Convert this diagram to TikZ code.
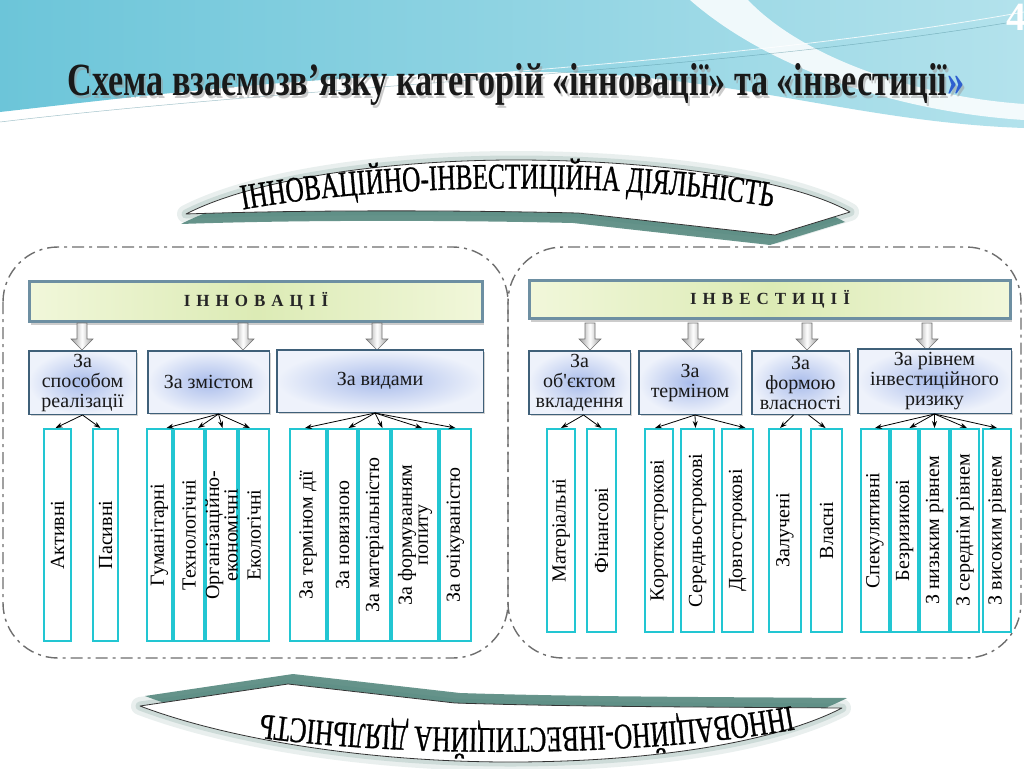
\documentclass[tikz,border=0pt]{standalone}
\usepackage{fontspec}
\usepackage{graphicx}
\setmainfont{Liberation Serif}
\newfontfamily\bannerfont[FakeStretch=0.7,FakeBold=0.8]{Liberation Serif}
\newfontfamily\plainserif{Liberation Serif}
\usetikzlibrary{arrows.meta,shadows,decorations.text,calc}
\definecolor{bgteal}{HTML}{6CC5D9}
\definecolor{bglight}{HTML}{B3E2EC}
\definecolor{shteal}{HTML}{4E8379}
\definecolor{hdrL}{HTML}{F1F7DA}
\definecolor{hdrM}{HTML}{DCEBB5}
\definecolor{hdrB}{HTML}{6D8FA2}
\definecolor{catI}{HTML}{A9BCEB}
\definecolor{catO}{HTML}{EEF2FB}
\definecolor{catB}{HTML}{3F6079}
\definecolor{vbB}{HTML}{22C6D2}
\definecolor{grpC}{HTML}{6E6E6E}
\definecolor{arrG}{HTML}{9A9A9A}
\definecolor{quoteblue}{HTML}{2E5FD0}

\newcommand\tbpath{(186,214) .. controls (260,176) and (400,160) .. (515,160) .. controls (650,160) and (790,178) .. (850,212) -- (775,235) -- (578,213) .. controls (450,210) and (300,210) .. (186,214) -- cycle}
\newcommand\bbpath{(842,708) .. controls (770,745) and (640,762) .. (510,762) .. controls (370,762) and (230,740) .. (140,706) -- (288,684) -- (455,703) .. controls (580,707) and (720,707) .. (842,708) -- cycle}

\newcommand\vrect[6]{%
  \pgfmathsetmacro\vrX{(#2+#3)/2}\pgfmathsetmacro\vrY{(#4+#5)/2}%
  \pgfmathsetmacro\vrW{#3-#2-2.4}\pgfmathsetmacro\vrH{#5-#4-2.4}%
  \node[vb, minimum width=\vrW pt, minimum height=\vrH pt] (#1) at (\vrX,\vrY) {};%
  \node[vt] (#1t) at (#1.center) {#6};}
\newcommand\crect[6]{%
  \pgfmathsetmacro\vrX{(#2+#3)/2}\pgfmathsetmacro\vrY{(#4+#5)/2}%
  \pgfmathsetmacro\vrW{#3-#2-1.5}\pgfmathsetmacro\vrH{#5-#4-1.5}%
  \node[cat, minimum width=\vrW pt, minimum height=\vrH pt] (#1) at (\vrX,\vrY) {#6};}
\newcommand\barrow[2]{%
  \coordinate (#1) at (#2,323);
  \draw[barr] (#1) ++(-5,0) -- ++(10,0) -- ++(0,16) -- ++(6,0) -- ++(-11,11) -- ++(-11,-11) -- ++(6,0) -- cycle;}

\begin{document}
\begin{tikzpicture}[x=1pt,y=-1pt,
 hdr/.style={draw=hdrB, line width=2.5pt, left color=hdrL, right color=hdrL, middle color=hdrM, inner sep=0, font=\fontsize{17}{20}\selectfont\bfseries, text=black!85, drop shadow={shadow xshift=1pt, shadow yshift=-3pt, opacity=.4}},
 cat/.style={draw=catB, line width=1.5pt, inner color=catI, outer color=catO, inner sep=0, align=center, font=\fontsize{20}{20}\selectfont, text=black!90, drop shadow={shadow xshift=2pt, shadow yshift=-2pt, opacity=.35}},
 vb/.style={draw=vbB, line width=2.4pt, fill=white, inner sep=0},
 vt/.style={rotate=90, inner sep=0, align=center, font=\fontsize{20}{16}\selectfont},
 conn/.style={-{Stealth[length=7pt,width=5pt]}, line width=0.8pt, black},
 barr/.style={draw=black!55, line width=0.6pt, left color=arrG, right color=arrG, middle color=white},
 grp/.style={draw=grpC, line width=1.4pt, dash pattern=on 12pt off 5pt on 3pt off 5pt, rounded corners=55pt},
 rib/.style={fill=white, draw=black!80, line width=0.8pt, line join=round},
 bantext/.style={decorate, decoration={text along path, text align=center,
  text={|\bannerfont\fontsize{36}{36}\selectfont|ІННОВАЦІЙНО-ІНВЕСТИЦІЙНА ДІЯЛЬНІСТЬ}}},
]
\useasboundingbox (0,0) rectangle (1024,768);
\fill[white] (0,0) rectangle (1024,768);

% background swoosh
\shade[left color=bgteal, right color=bglight] (0,0) -- (1024,0) -- (1024,128) .. controls (850,122) and (720,70) .. (520,72) .. controls (320,74) and (150,95) .. (0,112) -- cycle;
\fill[white, opacity=.85] (690,0) .. controls (770,70) and (900,112) .. (1024,120) -- (1024,104) .. controls (910,96) and (800,55) .. (748,0) -- cycle;
\draw[white, line width=.8pt, opacity=.8] (0,118) .. controls (300,80) and (700,70) .. (1024,12);
\draw[bgteal!70!black, line width=.5pt, opacity=.5] (0,122) .. controls (320,84) and (720,72) .. (1024,20);

% page number and title
\node[font=\fontsize{40}{40}\selectfont\bfseries, text=white, inner sep=0] (pnum) at (1016,17) {4};
\node[inner sep=0, anchor=base, text=black!40, opacity=.5] (titlesh) at (518,98) {\resizebox{897pt}{32pt}{\bfseries Схема взаємозв’язку категорій «інновації» та «інвестиції»}};
\node[inner sep=0, anchor=base, text=black!90] (title) at (516,95) {\resizebox{897pt}{32pt}{\bfseries Схема взаємозв’язку категорій «інновації» та «інвестиції\textcolor{quoteblue}{»}}};

% top banner
\draw[shteal, opacity=.12, line width=18pt, line join=round] \tbpath;
\draw[shteal, opacity=.18, line width=9pt, line join=round] \tbpath;
\begin{scope}[shift={(-5,10)}]
  \fill[shteal, opacity=.85] \tbpath;
\end{scope}
\draw[rib] \tbpath;
\path[bantext] (215,215) .. controls (380,180) and (640,180) .. (800,212);

% bottom banner
\draw[shteal, opacity=.12, line width=18pt, line join=round] \bbpath;
\draw[shteal, opacity=.18, line width=9pt, line join=round] \bbpath;
\begin{scope}[shift={(5,-10)}]
  \fill[shteal, opacity=.85] \bbpath;
\end{scope}
\draw[rib] \bbpath;
\path[bantext] (808,703) .. controls (650,735) and (400,735) .. (245,712);

% group frames
\draw[grp] (3,247) rectangle (508,658);
\draw[grp] (508,247) rectangle (1021,658);

% headers
\node[hdr, minimum width=453pt, minimum height=40pt] (hI) at (256,301.5) {І\kern6ptН\kern6ptН\kern6ptО\kern6ptВ\kern6ptА\kern6ptЦ\kern6ptІ\kern6ptЇ};
\node[hdr, minimum width=481pt, minimum height=38pt] (hN) at (770,299.5) {І\kern6ptН\kern6ptВ\kern6ptЕ\kern6ptС\kern6ptТ\kern6ptИ\kern6ptЦ\kern6ptІ\kern6ptЇ};

% block arrows
\barrow{ba1}{82}
\barrow{ba2}{243}
\barrow{ba3}{377}
\barrow{ba4}{590}
\barrow{ba5}{693}
\barrow{ba6}{807}
\barrow{ba7}{927}

% category boxes
\crect{cs}{28}{137}{350}{415}{За\\способом\\реалізації}
\crect{cz}{147}{270}{350}{414}{За змістом}
\crect{cv}{276}{484}{349}{413}{\raisebox{-6pt}{За видами}}
\crect{co}{528}{631}{350}{415}{За\\об{\plainserif'}єктом\\вкладення}
\crect{ct}{638}{742}{350}{415}{За\\терміном}
\crect{cf}{751}{850}{350}{415}{За\\формою\\власності}
\crect{cr}{857}{1012}{348}{414}{За рівнем\\інвестиційного\\ризику}

% vertical boxes (left)
\vrect{v1}{43}{72}{428}{642}{Активні}
\vrect{v2}{92}{119}{428}{642}{Пасивні}
\vrect{v3}{146}{173}{428}{642}{Гуманітарні}
\vrect{v4}{173}{205}{428}{642}{Технологічні}
\vrect{v5}{205}{238}{428}{642}{Організаційно-\\економічні}
\vrect{v6}{238}{270}{428}{642}{Екологічні}
\vrect{v7}{289}{327}{428}{642}{За терміном дії}
\vrect{v8}{327}{358}{428}{642}{За новизною}
\vrect{v9}{358}{391}{428}{642}{За матеріальністю}
\vrect{v10}{391}{439}{428}{642}{За формуванням\\попиту}
\vrect{v11}{439}{472}{428}{642}{За очікуваністю}
% vertical boxes (right)
\vrect{w1}{546}{576}{428}{633}{Матеріальні}
\vrect{w2}{586}{617}{428}{633}{Фінансові}
\vrect{w3}{644}{674}{428}{633}{Короткострокові}
\vrect{w4}{680}{715}{428}{633}{Середньострокові}
\vrect{w5}{721}{754}{428}{633}{Довгострокові}
\vrect{w6}{768}{802}{428}{633}{Залучені}
\vrect{w7}{810}{843}{428}{633}{Власні}
\vrect{w8}{860}{890}{428}{633}{Спекулятивні}
\vrect{w9}{890}{919}{428}{633}{Безризикові}
\vrect{w10}{919}{950}{428}{633}{З низьким рівнем}
\vrect{w11}{950}{980}{428}{633}{З середнім рівнем}
\vrect{w12}{982}{1012}{428}{633}{З високим рівнем}

% connectors
\draw[conn] (cs.south) -- ([xshift=-2pt]v1.north);
\draw[conn] (cs.south) -- ([xshift=-5pt]v2.north);
\coordinate (czs) at ([xshift=10pt]cz.south);
\draw[conn] (czs) -- ([xshift=7pt]v3.north);
\draw[conn] (czs) -- ([xshift=9pt]v4.north);
\draw[conn] (czs) -- ([xshift=1pt]v5.north);
\draw[conn] (czs) -- ([xshift=-4pt]v6.north);
\coordinate (cvs) at ([xshift=-5pt]cv.south);
\draw[conn] (cvs) -- ([xshift=-3pt]v7.north);
\draw[conn] (cvs) -- ([xshift=6pt]v8.north);
\draw[conn] (cvs) -- ([xshift=8pt]v9.north);
\draw[conn] (cvs) -- ([xshift=7pt]v10.north);
\draw[conn] (cvs) -- (v11.north);
\coordinate (cos) at ([xshift=4pt]co.south);
\draw[conn] (cos) -- (w1.north);
\draw[conn] (cos) -- (w2.north);
\coordinate (cts) at ([xshift=5pt]ct.south);
\draw[conn] (cts) -- ([xshift=-4pt]w3.north);
\draw[conn] (cts) -- ([xshift=-2pt]w4.north);
\draw[conn] (cts) -- ([xshift=8pt]w5.north);
\draw[conn] ([xshift=-7pt]cf.south) -- ([xshift=-5pt]w6.north);
\draw[conn] ([xshift=8pt]cf.south) -- ([xshift=-1pt]w7.north);
\draw[conn] (cr.south) -- (w8.north);
\draw[conn] (cr.south) -- ([xshift=5pt]w9.north);
\draw[conn] (cr.south) -- (w10.north);
\draw[conn] (cr.south) -- ([xshift=2pt]w11.north);
\draw[conn] (cr.south) -- (w12.north);
\end{tikzpicture}
\end{document}
